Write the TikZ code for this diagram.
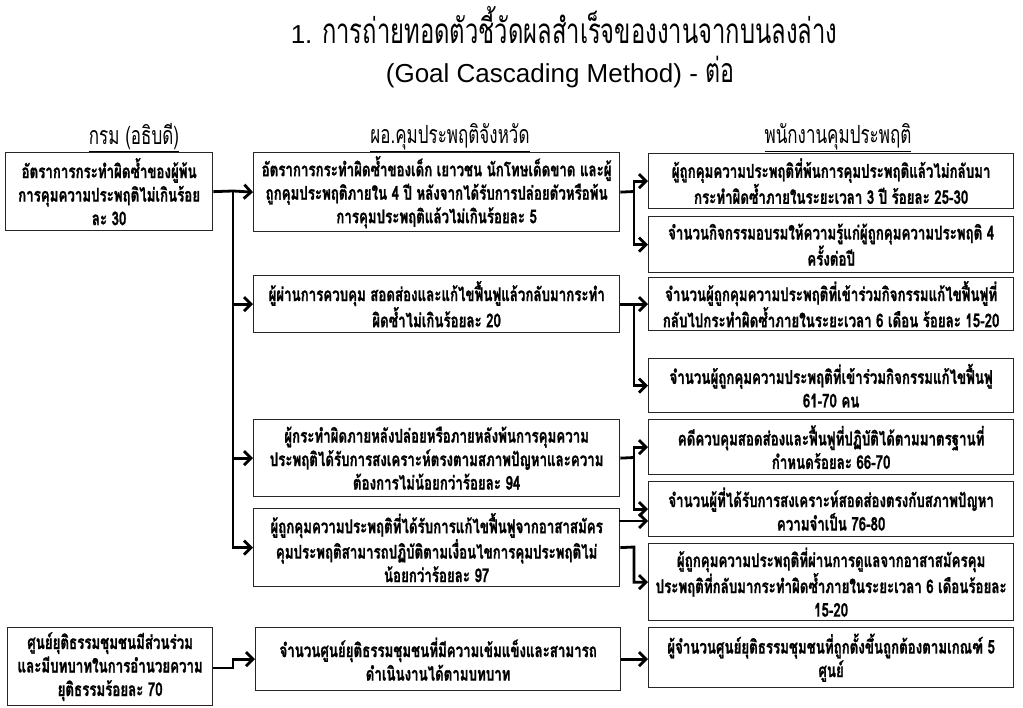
\documentclass[tikz,border=0pt]{standalone}
\usepackage{fontspec}
\usetikzlibrary{arrows.meta,calc}
\newfontfamily\bodyfont[Script=Thai,FakeStretch=0.7,BoldFeatures={FakeBold=1}]{Loma}
\newfontfamily\titlethai[Script=Thai,FakeStretch=0.68]{Loma}
\newfontfamily\latfont{Liberation Sans}
\tikzset{
  box/.style={draw=black!85, line width=1.3pt, inner sep=1pt, align=center, anchor=north west,
    font=\bodyfont\bfseries\fontsize{19}{23.5}\selectfont},
  hdr/.style={inner sep=0pt, font=\titlethai\fontsize{25}{28}\selectfont},
  ttl/.style={inner sep=0pt, anchor=base},
  ln/.style={line width=2.8pt},
  arr/.style={line width=2.8pt, -{Straight Barb[length=7pt,width=14pt]}}
}
\begin{document}
\begin{tikzpicture}[x=1pt,y=-1pt]
\useasboundingbox[fill=white] (0,0) rectangle (1023,708);
% title
\node[ttl] (t1) at (564,44) {{\latfont\fontsize{26}{30}\selectfont 1. }{\titlethai\fontsize{35}{38}\selectfont การถ่ายทอดตัวชี้วัดผลสำเร็จของงานจากบนลงล่าง}};
\node[ttl] (t2) at (560,83) {{\latfont\fontsize{26}{30}\selectfont (Goal Cascading Method) - }{\titlethai\fontsize{34}{38}\selectfont ต่อ}};
% headers
\node[hdr] (h1) at (134,138) {\underline{กรม (อธิบดี)}};
\node[hdr] (h2) at (450,138) {\underline{ผอ.คุมประพฤติจังหวัด}};
\node[hdr] (h3) at (838,138) {\underline{พนักงานคุมประพฤติ}};
% left column
\node[box, minimum width=207pt, minimum height=78pt] (L1) at (5,152)
  {อัตราการกระทำผิดซ้ำของผู้พ้น\\การคุมความประพฤติไม่เกินร้อย\\ละ 30};
\node[box, minimum width=205pt, minimum height=78pt] (L2) at (7,627)
  {ศูนย์ยุติธรรมชุมชนมีส่วนร่วม\\และมีบทบาทในการอำนวยความ\\ยุติธรรมร้อยละ 70};
% middle column
\node[box, minimum width=366pt, minimum height=79pt] (M1) at (253,152)
  {อัตราการกระทำผิดซ้ำของเด็ก เยาวชน นักโทษเด็ดขาด และผู้\\ถูกคุมประพฤติภายใน 4 ปี หลังจากได้รับการปล่อยตัวหรือพ้น\\การคุมประพฤติแล้วไม่เกินร้อยละ 5};
\node[box, minimum width=366pt, minimum height=57pt] (M2) at (253,275)
  {ผู้ผ่านการควบคุม สอดส่องและแก้ไขฟื้นฟูแล้วกลับมากระทำ\\ผิดซ้ำไม่เกินร้อยละ 20};
\node[box, minimum width=366pt, minimum height=77pt] (M3) at (253,419)
  {ผู้กระทำผิดภายหลังปล่อยหรือภายหลังพ้นการคุมความ\\ประพฤติได้รับการสงเคราะห์ตรงตามสภาพปัญหาและความ\\ต้องการไม่น้อยกว่าร้อยละ 94};
\node[box, minimum width=366pt, minimum height=78pt] (M4) at (253,508)
  {ผู้ถูกคุมความประพฤติที่ได้รับการแก้ไขฟื้นฟูจากอาสาสมัคร\\คุมประพฤติสามารถปฏิบัติตามเงื่อนไขการคุมประพฤติไม่\\น้อยกว่าร้อยละ 97};
\node[box, minimum width=365pt, minimum height=63pt] (M5) at (255,627)
  {จำนวนศูนย์ยุติธรรมชุมชนที่มีความเข้มแข็งและสามารถ\\ดำเนินงานได้ตามบทบาท};
% right column
\node[box, minimum width=365pt, minimum height=55pt] (R1) at (648,153)
  {ผู้ถูกคุมความประพฤติที่พ้นการคุมประพฤติแล้วไม่กลับมา\\กระทำผิดซ้ำภายในระยะเวลา 3 ปี ร้อยละ 25-30};
\node[box, minimum width=365pt, minimum height=56pt] (R2) at (648,216)
  {จำนวนกิจกรรมอบรมให้ความรู้แก่ผู้ถูกคุมความประพฤติ 4\\ครั้งต่อปี};
\node[box, minimum width=365pt, minimum height=53pt] (R3) at (648,277)
  {จำนวนผู้ถูกคุมความประพฤติที่เข้าร่วมกิจกรรมแก้ไขฟื้นฟูที่\\กลับไปกระทำผิดซ้ำภายในระยะเวลา 6 เดือน ร้อยละ 15-20};
\node[box, minimum width=365pt, minimum height=54pt] (R4) at (648,358)
  {จำนวนผู้ถูกคุมความประพฤติที่เข้าร่วมกิจกรรมแก้ไขฟื้นฟู\\61-70 คน};
\node[box, minimum width=365pt, minimum height=55pt] (R5) at (648,419)
  {คดีควบคุมสอดส่องและฟื้นฟูที่ปฏิบัติได้ตามมาตรฐานที่\\กำหนดร้อยละ 66-70};
\node[box, minimum width=365pt, minimum height=55pt] (R6) at (648,481)
  {จำนวนผู้ที่ได้รับการสงเคราะห์สอดส่องตรงกับสภาพปัญหา\\ความจำเป็น 76-80};
\node[box, minimum width=365pt, minimum height=77pt] (R7) at (648,543)
  {ผู้ถูกคุมความประพฤติที่ผ่านการดูแลจากอาสาสมัครคุม\\ประพฤติที่กลับมากระทำผิดซ้ำภายในระยะเวลา 6 เดือนร้อยละ\\15-20};
\node[box, minimum width=365pt, minimum height=60pt] (R8) at (648,627)
  {ผู้จำนวนศูนย์ยุติธรรมชุมชนที่ถูกตั้งขึ้นถูกต้องตามเกณฑ์ 5\\ศูนย์};
% junctions
\coordinate (jA) at (233,191);
\coordinate (jB) at (634,191.5);
\coordinate (jC) at (634,303.5);
\coordinate (jD) at (634,457.5);
\coordinate (jE) at (634,547);
\coordinate (jF) at (233,668);
\coordinate (m4a) at (619,521);
% connectors left -> middle
\draw[arr] (L1.east) -- (jA) -- (M1.west);
\draw[arr] (jA) |- (M4.west);
\draw[arr] (jA |- M2.west) -- (M2.west);
\draw[arr] (jA |- M3.west) -- (M3.west);
\draw[arr] (L2.east |- jF) -- (jF) |- (M5.west);
% middle -> right
\draw[ln] (M1.east) -- (jB);
\draw[arr] (jB) |- (R1.west);
\draw[arr] (jB) |- (R2.west);
\draw[arr] (M2.east) -- (R3.west);
\draw[arr] (jC) |- (R4.west);
\draw[ln] (M3.east) -- (jD);
\draw[arr] (jD) |- (R5.west);
\draw[arr] (jD) |- (R6.west);
\draw[arr] (m4a) -- (m4a -| R6.west);
\draw[arr] (M4.east) -- (jE) |- (R7.west);
\draw[arr] (M5.east) -- (M5.east -| R8.west);
\end{tikzpicture}
\end{document}
